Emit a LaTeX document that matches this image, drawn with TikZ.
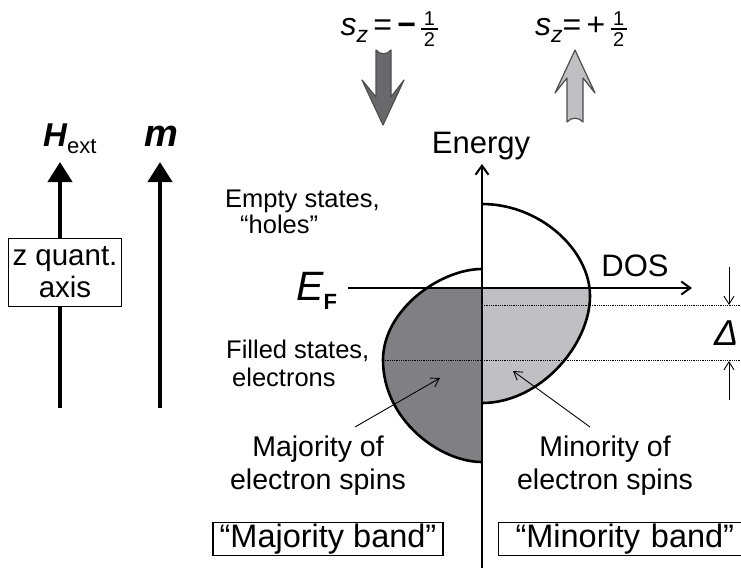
\documentclass[tikz,border=0pt]{standalone}
\usepackage{fontspec}
\setmainfont{Liberation Sans}
\usetikzlibrary{arrows.meta}
\definecolor{darkband}{RGB}{128,128,132}
\definecolor{lightband}{RGB}{192,192,195}
\definecolor{darkarrow}{RGB}{105,105,108}
\definecolor{arrowedge}{RGB}{78,78,82}
\newcommand{\halffrac}{$\vcenter{\offinterlineskip\halign{\hfil##\hfil\cr
  \fontsize{20}{20}\selectfont\kern2.5pt 1\kern2.5pt\cr\noalign{\kern3pt\hrule height 1.2pt\kern3pt}
  \fontsize{20}{20}\selectfont\kern2.5pt 2\kern2.5pt\cr}}$}
\begin{document}
\begin{tikzpicture}[x=1pt,y=-1pt,
  lbl/.style={inner sep=0pt, font=\fontsize{25.5}{28}\selectfont, align=left},
  bigl/.style={inner sep=0pt, font=\fontsize{28.5}{33}\selectfont, align=center},
  axisline/.style={line width=2pt, -{Straight Barb[length=9pt,width=13pt,line width=2pt]}},
  bandline/.style={line width=2.6pt},
  fieldarrow/.style={line width=4pt, -{Triangle[length=20pt,width=24pt]}},
  pointer/.style={line width=0.9pt, -{Straight Barb[length=8pt,width=10pt,line width=0.9pt]}},
  dotline/.style={line width=0.8pt, densely dotted},
  bandbox/.style={draw, line width=1.1pt, inner sep=0pt, minimum height=33pt, font=\fontsize{32.5}{32}\selectfont},
  fatarrow/.style={draw=arrowedge, line width=1.2pt, line join=round}
]
\useasboundingbox (0,0) rectangle (741,568);
\clip (0,0) rectangle (741,568);

% fills below E_F
\begin{scope}
  \clip (340,288) rectangle (482,600);
  \fill[darkband] (482,269) .. controls (440,269) and (383,310) .. (383,360)
     .. controls (383,420) and (440,462) .. (482,462) -- cycle;
\end{scope}
\begin{scope}
  \clip (482,288) rectangle (700,600);
  \fill[lightband] (482,204) .. controls (540,204) and (590,250) .. (590,296)
     .. controls (590,345) and (540,403) .. (482,403) -- cycle;
\end{scope}

% dotted levels
\coordinate (d1a) at (482,305);
\coordinate (d1b) at (745,305);
\coordinate (d2a) at (383,360);
\coordinate (d2b) at (745,360);
\draw[dotline] (d1a) -- (d1b);
\draw[dotline] (d2a) -- (d2b);

% band outlines
\draw[bandline] (482,269) .. controls (440,269) and (383,310) .. (383,360)
     .. controls (383,420) and (440,462) .. (482,462);
\draw[bandline] (482,204) .. controls (540,204) and (590,250) .. (590,296)
     .. controls (590,345) and (540,403) .. (482,403);

% axes
\coordinate (eb) at (482,568);
\coordinate (et) at (482,164);
\coordinate (dl) at (348,288);
\coordinate (dr) at (692,288);
\draw[axisline] (eb) -- (et);
\draw[axisline] (dl) -- (dr);
\node[inner sep=0pt, font=\fontsize{31}{31}\selectfont] (energy) at (481,146) {Energy};
\node[inner sep=0pt, font=\fontsize{31}{31}\selectfont] (dos) at (635,266) {DOS};

% E_F
\node[inner sep=0pt, anchor=west] (ef) at (296,291)
  {\fontsize{41}{41}\selectfont\itshape E\normalfont\fontsize{22}{22}\selectfont\bfseries\raisebox{-9pt}{F}};

% Delta
\coordinate (da1) at (729,267);
\coordinate (da2) at (729,305);
\coordinate (db1) at (729,400);
\coordinate (db2) at (729,361);
\draw[pointer] (da1) -- (da2);
\draw[pointer] (db1) -- (db2);
\node[inner sep=0pt, font=\fontsize{36}{36}\selectfont\itshape, anchor=west] (delta) at (714,333) {Δ};

% state labels
\node[lbl, anchor=base west] (empty1) at (225,207) {Empty states,};
\node[lbl, anchor=base west] (empty2) at (240,233) {“holes”};
\node[lbl, anchor=base west] (fill1) at (226,358) {Filled states,};
\node[lbl, anchor=base west] (fill2) at (232,386) {electrons};

% majority / minority labels and pointers
\node[bigl] (majtxt) at (318,466) {Majority of\\electron spins};
\node[bigl] (mintxt) at (605,466) {Minority of\\electron spins};
\coordinate (majtail) at (355,427);
\coordinate (majtip) at (440,378);
\coordinate (mintail) at (590,427);
\coordinate (mintip) at (513,371);
\draw[pointer] (majtail) -- (majtip);
\draw[pointer] (mintail) -- (mintip);

% band boxes
\node[bandbox, minimum width=230pt] (majbox) at (328,539) {“Majority band”};
\node[bandbox, minimum width=250pt, anchor=west, text width=238pt, align=left] (minbox) at (498,539) {\hspace{11pt}“Minority band”};

% left field arrows
\coordinate (hb) at (60,408);
\coordinate (ht) at (60,162);
\coordinate (mb) at (160,408);
\coordinate (mt) at (160,162);
\draw[fieldarrow] (hb) -- (ht);
\draw[fieldarrow] (mb) -- (mt);
\node[draw, fill=white, line width=0.9pt, inner sep=4pt, align=center,
      font=\fontsize{29.5}{32}\selectfont, minimum width=112pt, minimum height=68pt] (zbox) at (65,272) {z quant.\\axis};
\node[inner sep=0pt, anchor=base west] (hext) at (43,146)
  {\fontsize{33}{33}\selectfont\bfseries\itshape H\normalfont\fontsize{22}{22}\selectfont\raisebox{-7pt}{ext}};
\node[inner sep=0pt, anchor=base] (mlab) at (161,146)
  {\fontsize{38}{38}\selectfont\bfseries\itshape m};

% spin labels
\node[inner sep=0pt] (szdown) at (389,29)
  {\fontsize{32}{32}\selectfont\itshape s\normalfont\fontsize{23}{23}\selectfont\raisebox{-7pt}{\itshape z}\fontsize{32}{32}\selectfont\,=\,\textbf{−}\,\halffrac};
\node[inner sep=0pt] (szup) at (581,29)
  {\fontsize{32}{32}\selectfont\itshape s\normalfont\fontsize{23}{23}\selectfont\raisebox{-7pt}{\itshape z}\fontsize{32}{32}\selectfont=\,+\,\halffrac};

% fat spin arrows
\draw[fatarrow, fill=darkarrow] (376,50) -- (376,97) -- (362,80) -- (383,125) -- (404,80) -- (391,97) -- (391,50)
   .. controls (387,55) and (380,55) .. (376,50) -- cycle;
\draw[fatarrow, fill=lightband] (567,122) -- (567,78) -- (555,93) -- (575,50) -- (595,93) -- (583,78) -- (583,122)
   .. controls (579,117) and (571,117) .. (567,122) -- cycle;
\end{tikzpicture}
\end{document}
